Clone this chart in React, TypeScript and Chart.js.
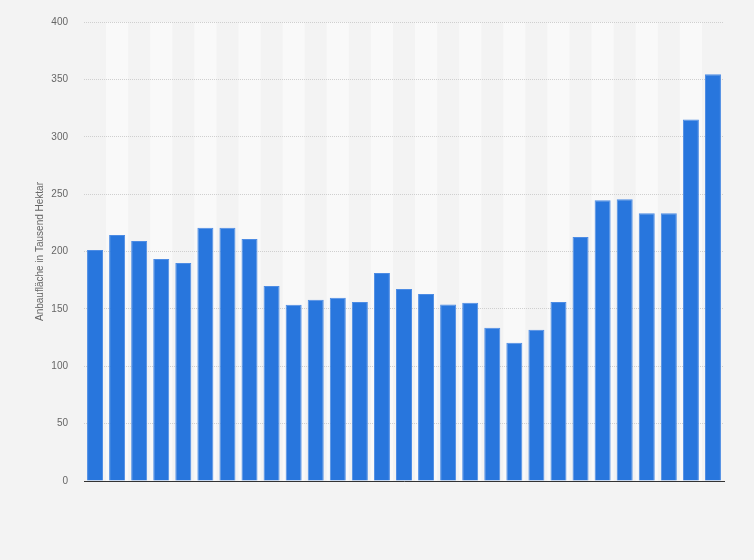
import React, { useEffect, useRef } from "react";
import { Chart, registerables } from "chart.js";

Chart.register(...registerables);

const years = [
  "1995", "1996", "1997", "1998", "1999", "2000", "2001", "2002", "2003", "2004",
  "2005", "2006", "2007", "2008", "2009", "2010", "2011", "2012", "2013", "2014",
  "2015", "2016", "2017", "2018", "2019", "2020", "2021", "2022", "2023",
];

const areaValues = [
  201.3, 214.3, 209.1, 193.5, 190.0, 220.7, 220.7, 210.9, 170.0, 153.5,
  157.9, 159.6, 156.1, 181.3, 167.4, 163.0, 153.8, 155.3, 133.5, 120.5,
  131.8, 156.1, 212.6, 244.7, 245.6, 233.4, 233.4, 315.1, 354.5,
];

const yMin = 0;
const yMax = 400;
const yStep = 50;
const yTitle = "Anbaufläche in Tausend Hektar";

const BG = "#f3f3f3";
const BAND = "#f9f9f9";
const BAR = "#2876dd";

const bandPlugin = {
  id: "bands",
  beforeDraw(chart: any) {
    const { ctx, chartArea, width, height } = chart;
    ctx.save();
    ctx.fillStyle = BG;
    ctx.fillRect(0, 0, width, height);
    const n = chart.data.labels.length;
    const w = (chartArea.right - chartArea.left) / n;
    ctx.fillStyle = BAND;
    for (let i = 1; i < n; i += 2) {
      ctx.fillRect(chartArea.left + i * w, chartArea.top, w, chartArea.bottom - chartArea.top);
    }
    ctx.restore();
  },
};

export default function App() {
  const ref = useRef<HTMLCanvasElement | null>(null);

  useEffect(() => {
    document.body.style.margin = "0";
    if (!ref.current) return;
    const chart = new Chart(ref.current, {
      type: "bar",
      data: {
        labels: years,
        datasets: [
          {
            data: areaValues,
            backgroundColor: BAR,
            borderColor: "#4d8ce4",
            borderWidth: 1,
            categoryPercentage: 1,
            barPercentage: 0.725,
          },
        ],
      },
      options: {
        animation: false,
        responsive: true,
        maintainAspectRatio: false,
        layout: { padding: { left: 0, right: 30, top: 21, bottom: 79 } },
        plugins: {
          legend: { display: false },
          tooltip: { enabled: false },
        },
        scales: {
          x: {
            grid: { display: false },
            ticks: { display: false },
            border: { display: true, color: "#333333", width: 1 },
            afterFit(scale: any) {
              scale.height = 0;
            },
          },
          y: {
            min: yMin,
            max: yMax,
            ticks: {
              stepSize: yStep,
              padding: 16,
              color: "#666666",
              font: { family: "'Liberation Sans', Arial, sans-serif", size: 10 },
            },
            grid: { color: "#cfcfcf", drawTicks: false, lineWidth: 1 },
            border: { display: false, dash: [1, 1] },
            title: {
              display: true,
              text: yTitle,
              color: "#666666",
              padding: { top: 34, bottom: 0 },
              font: { family: "'Liberation Sans', Arial, sans-serif", size: 10 },
            },
            afterFit(scale: any) {
              scale.width = 84;
            },
          },
        },
      },
      plugins: [bandPlugin],
    });
    return () => chart.destroy();
  }, []);

  return (
    <div style={{ width: 754, height: 560, position: "relative", background: BG }}>
      <canvas ref={ref} />
    </div>
  );
}
